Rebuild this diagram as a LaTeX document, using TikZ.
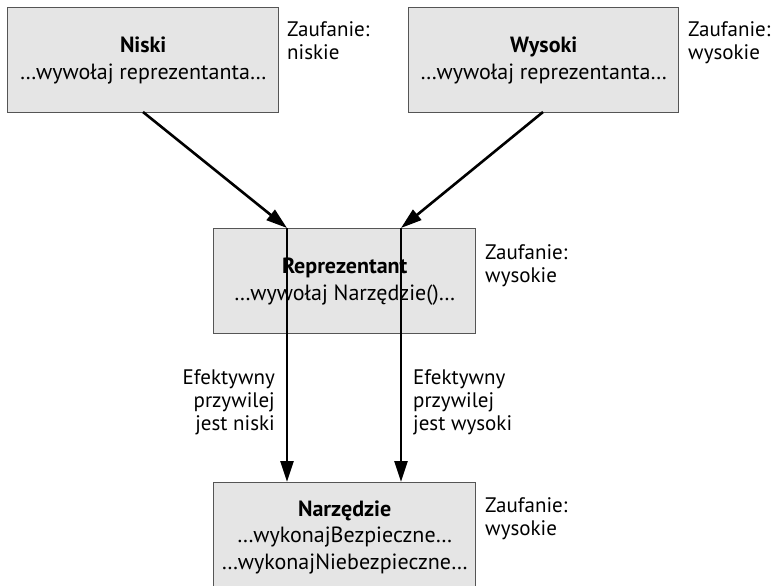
\documentclass[tikz,border=0pt]{standalone}
\usepackage{fontspec}
\setmainfont{PT Sans}
\usetikzlibrary{arrows.meta,calc}
\definecolor{boxfill}{HTML}{E5E5E5}
\definecolor{boxline}{HTML}{555555}
\begin{document}
\begin{tikzpicture}[x=1pt,y=-1pt,
  box/.style={draw=boxline,fill=boxfill,line width=1.4pt,inner sep=0pt,anchor=north west,align=center,font=\fontsize{22}{27}\selectfont},
  lbl/.style={inner sep=0pt,anchor=north west,align=left,font=\fontsize{21}{23}\selectfont},
  arr/.style={line width=2.6pt,-{Triangle[length=21pt,width=13pt]}},
]
\useasboundingbox (0,0) rectangle (774,586);
\clip (0,0) rectangle (774,586);

\node[box,minimum width=271pt,minimum height=105pt] (niski) at (7,7)
  {\textbf{Niski}\\…wywołaj reprezentanta…};
\node[box,minimum width=270pt,minimum height=105pt] (wysoki) at (408,7)
  {\textbf{Wysoki}\\…wywołaj reprezentanta…};
\node[box,minimum width=262pt,minimum height=105pt] (rep) at (213,228)
  {\textbf{Reprezentant}\\…wywołaj Narzędzie()…};
\node[box,minimum width=262pt,minimum height=109pt,font=\fontsize{22}{26.5}\selectfont] (narz) at (213,482)
  {\textbf{Narzędzie}\\…wykonajBezpieczne…\\…wykonajNiebezpieczne…};

\node[lbl] (zn) at (287,21) {Zaufanie:\\niskie};
\node[lbl] (zw) at (688,21) {Zaufanie:\\wysokie};
\node[lbl] (zr) at (485,244) {Zaufanie:\\wysokie};
\node[lbl] (zt) at (485,497) {Zaufanie:\\wysokie};

\node[lbl,anchor=north east,align=right] (el) at (275,369) {Efektywny\\przywilej\\jest niski};
\node[lbl] (er) at (413,369) {Efektywny\\przywilej\\jest wysoki};

\coordinate (ta) at (287,228);
\coordinate (tb) at (401,228);
\coordinate (sa) at (143,112);
\coordinate (sb) at (543,112);

\draw[arr] (sa) -- (ta);
\draw[arr] (sb) -- (tb);
\draw[arr] (ta) -- (narz.north -| ta);
\draw[arr] (tb) -- (narz.north -| tb);
\end{tikzpicture}
\end{document}
